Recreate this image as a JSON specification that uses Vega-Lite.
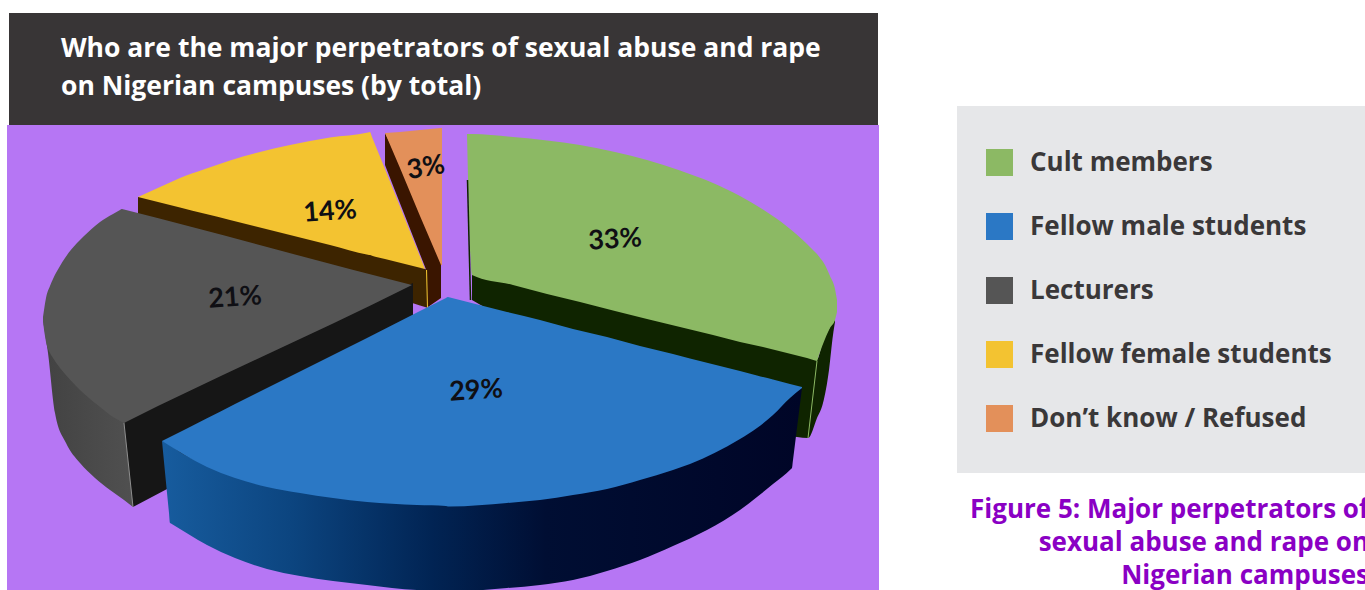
{
  "$schema": "https://vega.github.io/schema/vega-lite/v6.json",
  "autosize": {"type": "fit", "contains": "padding"},
  "width": 1365,
  "height": 590,
  "padding": 0,
  "background": "#ffffff",
  "config": {"view": {"stroke": null}},
  "datasets": {
    "header": [{"across": 9, "across2": 878, "upper": 13, "lower": 125}],
    "backdrop": [{"across": 7, "across2": 879, "upper": 125, "lower": 590}],
    "legendPanel": [{"across": 957, "across2": 1365, "upper": 106, "lower": 473}],
    "orangeWall": [
      {"across": 385, "upper": 133, "lower": 165},
      {"across": 392, "upper": 147, "lower": 183},
      {"across": 427, "upper": 230, "lower": 272},
      {"across": 428, "upper": 232, "lower": 307},
      {"across": 441, "upper": 263, "lower": 298}
    ],
    "orangeTop": [
      {"group": "Don’t know / Refused", "across": 385, "upper": 133, "lower": 133},
      {"group": "Don’t know / Refused", "across": 400, "upper": 132, "lower": 168},
      {"group": "Don’t know / Refused", "across": 420, "upper": 130, "lower": 216},
      {"group": "Don’t know / Refused", "across": 441, "upper": 128, "lower": 265},
      {"group": "Don’t know / Refused", "across": 442, "upper": 128, "lower": 265}
    ],
    "yellowWall": [
      {"across": 138, "upper": 197, "lower": 214},
      {"across": 145, "upper": 197, "lower": 216.5},
      {"across": 420, "upper": 266, "lower": 305.5},
      {"across": 425, "upper": 269, "lower": 307},
      {"across": 428, "upper": 270, "lower": 308}
    ],
    "yellowTop": [
      {"group": "Fellow female students", "across": 138, "upper": 197, "lower": 197},
      {"group": "Fellow female students", "across": 160, "upper": 187, "lower": 202.5},
      {"group": "Fellow female students", "across": 180, "upper": 178, "lower": 207.5},
      {"group": "Fellow female students", "across": 205, "upper": 169, "lower": 213.8},
      {"group": "Fellow female students", "across": 230, "upper": 160.5, "lower": 220},
      {"group": "Fellow female students", "across": 260, "upper": 152, "lower": 227.5},
      {"group": "Fellow female students", "across": 290, "upper": 145, "lower": 235},
      {"group": "Fellow female students", "across": 330, "upper": 137.5, "lower": 245},
      {"group": "Fellow female students", "across": 368, "upper": 132.5, "lower": 254.7},
      {"group": "Fellow female students", "across": 370, "upper": 132, "lower": 255},
      {"group": "Fellow female students", "across": 372, "upper": 137, "lower": 255.7},
      {"group": "Fellow female students", "across": 385, "upper": 169, "lower": 259},
      {"group": "Fellow female students", "across": 405, "upper": 219, "lower": 264},
      {"group": "Fellow female students", "across": 425, "upper": 269, "lower": 269}
    ],
    "greenWall": [
      {"across": 472, "upper": 273, "lower": 300},
      {"across": 797, "upper": 354, "lower": 437},
      {"across": 808, "upper": 357, "lower": 438},
      {"across": 817, "upper": 359, "lower": 418},
      {"across": 823, "upper": 341, "lower": 403},
      {"across": 829, "upper": 329, "lower": 370},
      {"across": 833, "upper": 322, "lower": 335},
      {"across": 835, "upper": 320, "lower": 322}
    ],
    "greenTop": [
      {"group": "Cult members", "across": 467, "upper": 134, "lower": 134},
      {"group": "Cult members", "across": 472, "upper": 134, "lower": 275},
      {"group": "Cult members", "across": 513, "upper": 137, "lower": 285},
      {"group": "Cult members", "across": 547, "upper": 140.5, "lower": 294},
      {"group": "Cult members", "across": 580, "upper": 145, "lower": 302},
      {"group": "Cult members", "across": 615, "upper": 152, "lower": 311},
      {"group": "Cult members", "across": 647, "upper": 160, "lower": 319},
      {"group": "Cult members", "across": 680, "upper": 170.5, "lower": 327},
      {"group": "Cult members", "across": 713, "upper": 183, "lower": 335},
      {"group": "Cult members", "across": 740, "upper": 196, "lower": 342},
      {"group": "Cult members", "across": 763, "upper": 209.5, "lower": 347},
      {"group": "Cult members", "across": 787, "upper": 226.5, "lower": 353},
      {"group": "Cult members", "across": 807, "upper": 244, "lower": 358},
      {"group": "Cult members", "across": 815, "upper": 252, "lower": 360.5},
      {"group": "Cult members", "across": 817, "upper": 254, "lower": 361},
      {"group": "Cult members", "across": 819, "upper": 256.5, "lower": 355},
      {"group": "Cult members", "across": 825, "upper": 265, "lower": 339},
      {"group": "Cult members", "across": 830, "upper": 276, "lower": 328},
      {"group": "Cult members", "across": 835, "upper": 289, "lower": 320},
      {"group": "Cult members", "across": 837, "upper": 300, "lower": 312}
    ],
    "greyOuterWall": [
      {"across": 43, "upper": 320, "lower": 320},
      {"across": 48, "upper": 340, "lower": 353},
      {"across": 55, "upper": 355, "lower": 413},
      {"across": 66, "upper": 370, "lower": 443},
      {"across": 80, "upper": 385, "lower": 463},
      {"across": 95, "upper": 400, "lower": 478},
      {"across": 110, "upper": 410, "lower": 490},
      {"across": 124, "upper": 420, "lower": 500},
      {"across": 133, "upper": 420, "lower": 507}
    ],
    "greyCutWall": [
      {"across": 124, "upper": 421, "lower": 423},
      {"across": 133, "upper": 417, "lower": 507},
      {"across": 413, "upper": 283, "lower": 359}
    ],
    "greyTop": [
      {"group": "Lecturers", "across": 43, "upper": 317, "lower": 322},
      {"group": "Lecturers", "across": 46, "upper": 298, "lower": 342},
      {"group": "Lecturers", "across": 50, "upper": 286, "lower": 353},
      {"group": "Lecturers", "across": 53, "upper": 279, "lower": 358},
      {"group": "Lecturers", "across": 60, "upper": 266, "lower": 368},
      {"group": "Lecturers", "across": 65, "upper": 258, "lower": 374},
      {"group": "Lecturers", "across": 77, "upper": 243, "lower": 387},
      {"group": "Lecturers", "across": 80, "upper": 240, "lower": 390},
      {"group": "Lecturers", "across": 95, "upper": 226, "lower": 403},
      {"group": "Lecturers", "across": 100, "upper": 222, "lower": 407},
      {"group": "Lecturers", "across": 113, "upper": 214, "lower": 417},
      {"group": "Lecturers", "across": 120, "upper": 210, "lower": 421},
      {"group": "Lecturers", "across": 122, "upper": 209, "lower": 422},
      {"group": "Lecturers", "across": 124, "upper": 209.5, "lower": 423},
      {"group": "Lecturers", "across": 126, "upper": 210, "lower": 422},
      {"group": "Lecturers", "across": 410, "upper": 284.5, "lower": 286},
      {"group": "Lecturers", "across": 412, "upper": 285, "lower": 285}
    ],
    "blueWall": [
      {"across": 162, "upper": 441, "lower": 441},
      {"across": 169, "upper": 443.5, "lower": 513},
      {"across": 170, "upper": 444, "lower": 523},
      {"across": 171, "upper": 445, "lower": 523.6},
      {"across": 207, "upper": 465, "lower": 545},
      {"across": 235, "upper": 476, "lower": 558},
      {"across": 267, "upper": 485, "lower": 569},
      {"across": 300, "upper": 491, "lower": 576},
      {"across": 333, "upper": 496, "lower": 581},
      {"across": 367, "upper": 499, "lower": 585},
      {"across": 417, "upper": 503, "lower": 590},
      {"across": 460, "upper": 505, "lower": 591},
      {"across": 507, "upper": 501, "lower": 588},
      {"across": 540, "upper": 498, "lower": 585},
      {"across": 573, "upper": 493, "lower": 580},
      {"across": 607, "upper": 487, "lower": 571},
      {"across": 640, "upper": 478, "lower": 560},
      {"across": 673, "upper": 468, "lower": 546},
      {"across": 707, "upper": 454, "lower": 530},
      {"across": 740, "upper": 437, "lower": 510},
      {"across": 757, "upper": 426, "lower": 497},
      {"across": 773, "upper": 413, "lower": 484},
      {"across": 791, "upper": 397, "lower": 469},
      {"across": 792, "upper": 396, "lower": 468},
      {"across": 793, "upper": 395, "lower": 460},
      {"across": 802, "upper": 388, "lower": 388}
    ],
    "blueTop": [
      {"group": "Fellow male students", "across": 162, "upper": 441, "lower": 441},
      {"group": "Fellow male students", "across": 207, "upper": 418.3, "lower": 467},
      {"group": "Fellow male students", "across": 235, "upper": 404, "lower": 478},
      {"group": "Fellow male students", "across": 267, "upper": 388, "lower": 487},
      {"group": "Fellow male students", "across": 300, "upper": 371.5, "lower": 493},
      {"group": "Fellow male students", "across": 333, "upper": 355, "lower": 498},
      {"group": "Fellow male students", "across": 367, "upper": 338, "lower": 502},
      {"group": "Fellow male students", "across": 417, "upper": 312.6, "lower": 505},
      {"group": "Fellow male students", "across": 446, "upper": 298, "lower": 506},
      {"group": "Fellow male students", "across": 448, "upper": 297, "lower": 506.5},
      {"group": "Fellow male students", "across": 450, "upper": 297.5, "lower": 506.5},
      {"group": "Fellow male students", "across": 507, "upper": 312, "lower": 503},
      {"group": "Fellow male students", "across": 540, "upper": 320, "lower": 500},
      {"group": "Fellow male students", "across": 573, "upper": 329, "lower": 495},
      {"group": "Fellow male students", "across": 607, "upper": 337, "lower": 489},
      {"group": "Fellow male students", "across": 640, "upper": 346, "lower": 480},
      {"group": "Fellow male students", "across": 673, "upper": 354, "lower": 470},
      {"group": "Fellow male students", "across": 690, "upper": 358.5, "lower": 464},
      {"group": "Fellow male students", "across": 740, "upper": 371, "lower": 439},
      {"group": "Fellow male students", "across": 757, "upper": 375.5, "lower": 428},
      {"group": "Fellow male students", "across": 773, "upper": 379.5, "lower": 415},
      {"group": "Fellow male students", "across": 790, "upper": 384, "lower": 398},
      {"group": "Fellow male students", "across": 802, "upper": 387, "lower": 388}
    ],
    "greenSeam": [{"across": 817, "upper": 361}, {"across": 808, "upper": 438}],
    "greyBlackSeam": [{"across": 124, "upper": 423}, {"across": 133, "upper": 507}],
    "yellowSeam": [{"across": 426.5, "upper": 270}, {"across": 427.5, "upper": 308}],
    "greenBackEdge": [{"across": 467.5, "upper": 180}, {"across": 470.5, "upper": 300}],
    "shares": [
      {"group": "Cult members", "share": 0.33, "across": 615, "upper": 240},
      {"group": "Fellow male students", "share": 0.29, "across": 476, "upper": 391},
      {"group": "Lecturers", "share": 0.21, "across": 235, "upper": 298},
      {"group": "Fellow female students", "share": 0.14, "across": 330, "upper": 212}
    ],
    "smallShare": [
      {"group": "Don’t know / Refused", "share": 0.03, "across": 426, "upper": 168}
    ],
    "headline": [
      {"line": "Who are the major perpetrators of sexual abuse and rape", "across": 61, "upper": 49},
      {"line": "on Nigerian campuses (by total)", "across": 61, "upper": 87}
    ],
    "caption": [
      {"line": "Figure 5: Major perpetrators of", "across": 1369, "upper": 510},
      {"line": "sexual abuse and rape on", "across": 1369, "upper": 543},
      {"line": "Nigerian campuses", "across": 1369, "upper": 576}
    ]
  },
  "encoding": {
    "x": {"field": "across", "type": "quantitative", "axis": null, "scale": {"domain": [0, 1365], "nice": false, "zero": false}},
    "y": {"field": "upper", "type": "quantitative", "axis": null, "stack": null, "scale": {"domain": [590, 0], "nice": false, "zero": false}}
  },
  "layer": [
    {"data": {"name": "header"}, "mark": {"type": "rect", "color": "#383536"}, "encoding": {"x2": {"field": "across2"}, "y2": {"field": "lower"}}},
    {"data": {"name": "backdrop"}, "mark": {"type": "rect", "color": "#b676f4"}, "encoding": {"x2": {"field": "across2"}, "y2": {"field": "lower"}}},
    {"data": {"name": "legendPanel"}, "mark": {"type": "rect", "color": "#e6e7e9"}, "encoding": {"x2": {"field": "across2"}, "y2": {"field": "lower"}}},

    {"data": {"name": "orangeWall"}, "mark": {"type": "area", "color": "#3a1500"}, "encoding": {"y2": {"field": "lower"}}},
    {"data": {"name": "orangeTop"}, "mark": {"type": "area"}, "encoding": {
      "y2": {"field": "lower"},
      "color": {
        "field": "group", "type": "nominal",
        "scale": {
          "domain": ["Cult members", "Fellow male students", "Lecturers", "Fellow female students", "Don’t know / Refused"],
          "range": ["#8cb964", "#2b78c5", "#555555", "#f3c331", "#e3905a"]
        },
        "legend": {
          "orient": "none", "legendX": 986, "legendY": 149, "title": null,
          "symbolType": "square", "symbolSize": 729, "symbolStrokeWidth": 0, "symbolOpacity": 1,
          "labelFont": "Open Sans", "labelFontWeight": "bold", "labelFontSize": 26, "labelColor": "#3a3839",
          "labelOffset": 17, "rowPadding": 37, "labelLimit": 400, "padding": 0
        }
      }
    }},
    {"data": {"name": "yellowWall"}, "mark": {"type": "area", "color": "#3d2400"}, "encoding": {"y2": {"field": "lower"}}},
    {"data": {"name": "yellowSeam"}, "mark": {"type": "line", "color": "#f3c331", "strokeWidth": 1}},
    {"data": {"name": "yellowTop"}, "mark": {"type": "area", "interpolate": "monotone"}, "encoding": {"y2": {"field": "lower"}, "color": {"field": "group", "type": "nominal"}}},
    {"data": {"name": "greenWall"}, "mark": {"type": "area", "color": "#0f2400", "interpolate": "monotone"}, "encoding": {"y2": {"field": "lower"}}},
    {"data": {"name": "greenSeam"}, "mark": {"type": "line", "color": "#8cb964", "strokeWidth": 1}},
    {"data": {"name": "greenTop"}, "mark": {"type": "area", "interpolate": "monotone"}, "encoding": {"y2": {"field": "lower"}, "color": {"field": "group", "type": "nominal"}}},
    {"data": {"name": "greenBackEdge"}, "mark": {"type": "line", "color": "#0f2400", "strokeWidth": 1.5}},
    {"data": {"name": "greyOuterWall"}, "mark": {"type": "area", "interpolate": "monotone", "color": {"gradient": "linear", "x1": 0, "x2": 1, "y1": 0, "y2": 0, "stops": [{"offset": 0, "color": "#424242"}, {"offset": 1, "color": "#505050"}]}}, "encoding": {"y2": {"field": "lower"}}},
    {"data": {"name": "greyCutWall"}, "mark": {"type": "area", "color": "#161616"}, "encoding": {"y2": {"field": "lower"}}},
    {"data": {"name": "greyBlackSeam"}, "mark": {"type": "line", "color": "#8f8f8f", "strokeWidth": 1}},
    {"data": {"name": "greyTop"}, "mark": {"type": "area", "interpolate": "monotone"}, "encoding": {"y2": {"field": "lower"}, "color": {"field": "group", "type": "nominal"}}},
    {"data": {"name": "blueWall"}, "mark": {"type": "area", "clip": true, "interpolate": "monotone", "color": {"gradient": "linear", "x1": 0, "x2": 1, "y1": 0, "y2": 0, "stops": [{"offset": 0, "color": "#175c9e"}, {"offset": 0.2, "color": "#0c4580"}, {"offset": 0.42, "color": "#012454"}, {"offset": 0.6, "color": "#000e33"}, {"offset": 1, "color": "#000527"}]}}, "encoding": {"y2": {"field": "lower"}}},
    {"data": {"name": "blueTop"}, "mark": {"type": "area", "interpolate": "monotone"}, "encoding": {"y2": {"field": "lower"}, "color": {"field": "group", "type": "nominal"}}},

    {"data": {"name": "shares"}, "mark": {"type": "text", "font": "Lato", "fontWeight": "bold", "fontSize": 27, "color": "#0f0f14", "angle": 356, "align": "center", "baseline": "middle"}, "encoding": {"text": {"field": "share", "type": "quantitative", "format": ".0%"}}},
    {"data": {"name": "smallShare"}, "mark": {"type": "text", "font": "Lato", "fontWeight": "bold", "fontSize": 27, "color": "#0f0f14", "angle": 350, "align": "center", "baseline": "middle"}, "encoding": {"text": {"field": "share", "type": "quantitative", "format": ".0%"}}},
    {"data": {"name": "headline"}, "mark": {"type": "text", "font": "Open Sans", "fontWeight": "bold", "fontSize": 26.5, "color": "#ffffff", "align": "left", "baseline": "middle"}, "encoding": {"text": {"field": "line"}}},
    {"data": {"name": "caption"}, "mark": {"type": "text", "clip": true, "font": "Open Sans", "fontWeight": "bold", "fontSize": 26, "color": "#8a00c4", "align": "right", "baseline": "middle"}, "encoding": {"text": {"field": "line"}}}
  ]
}
